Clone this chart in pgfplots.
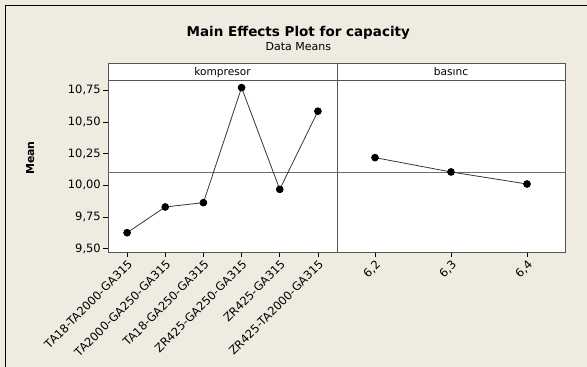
\documentclass[border=0pt]{standalone}
\usepackage{fontspec}
\setmainfont{DejaVu Sans}
\usepackage{pgfplots}
\pgfplotsset{compat=1.18}
\definecolor{bgc}{RGB}{239,235,225}
\definecolor{panelc}{RGB}{85,85,85}
\definecolor{meanc}{RGB}{110,110,110}
\definecolor{linec}{RGB}{55,55,55}
\begin{document}
\begin{tikzpicture}
\fill[bgc] (0pt,0pt) rectangle (587pt,367pt);
\useasboundingbox (0pt,0pt) rectangle (587pt,367pt);
\draw[line width=1.2pt,black] (5.5pt,-1pt) -- (5.5pt,361.5pt) -- (588pt,361.5pt);
% titles
\node[anchor=base,inner sep=0pt,font=\fontsize{13.5}{15}\selectfont\bfseries] at (298.3pt,330.3pt) {Main Effects Plot for capacity};
\node[anchor=base,inner sep=0pt,font=\fontsize{11}{13}\selectfont] at (298.3pt,316pt) {Data Means};
% strip
\fill[white] (108pt,287pt) rectangle (565pt,303.5pt);
\draw[panelc,line width=0.8pt] (108pt,287pt) rectangle (565pt,303.5pt);
\draw[panelc,line width=0.8pt] (337pt,287pt) -- (337pt,303.5pt);
\node[anchor=base,inner sep=0pt,font=\fontsize{10.6}{12}\selectfont] at (222.5pt,291pt) {kompresor};
\node[anchor=base,inner sep=0pt,font=\fontsize{10.6}{12}\selectfont] at (451pt,291pt) {basınc};
% y label
\node[rotate=90,anchor=base,inner sep=0pt,font=\fontsize{11}{13}\selectfont\bfseries] at (34pt,209pt) {Mean};
\pgfplotsset{
  every axis/.append style={
    scale only axis, height=172pt,
    ymin=9.474, ymax=10.830,
    axis background/.style={fill=white},
    axis line style={draw=panelc,line width=0.8pt},
    tick align=outside, major tick length=5pt,
    tick style={black,line width=0.6pt},
    xtick pos=lower, ytick pos=left,
    tick label style={font=\fontsize{11.5}{13}\selectfont},
    xticklabel style={rotate=45,anchor=north east,inner sep=1.5pt},
  }
}
\begin{axis}[at={(108pt,115pt)},anchor=south west,width=229pt,
  xmin=0.5,xmax=6.5,
  xtick={1,2,3,4,5,6},
  xticklabels={TA18-TA2000-GA315,TA2000-GA250-GA315,TA18-GA250-GA315,ZR425-GA250-GA315,ZR425-GA315,ZR425-TA2000-GA315},
  ytick={9.5,9.75,10,10.25,10.5,10.75},
  yticklabels={{9,50},{9,75},{10,00},{10,25},{10,50},{10,75}},
  yticklabel style={inner sep=2pt},
]
\addplot[meanc,line width=0.8pt,no marks] coordinates {(0.5,10.103) (6.5,10.103)};
\addplot[linec,line width=0.8pt,mark=*,mark size=3.4pt,mark options={fill=black,draw=black}] coordinates {
(1,9.626) (2,9.829) (3,9.863) (4,10.770) (5,9.968) (6,10.584)};
\end{axis}
\begin{axis}[at={(337pt,115pt)},anchor=south west,width=228pt,
  xmin=6.15,xmax=6.45,
  xtick={6.2,6.3,6.4},
  xticklabels={{6,2},{6,3},{6,4}},
  ytick=\empty,
]
\addplot[meanc,line width=0.8pt,no marks] coordinates {(6.15,10.103) (6.45,10.103)};
\addplot[linec,line width=0.8pt,mark=*,mark size=3.4pt,mark options={fill=black,draw=black}] coordinates {
(6.2,10.218) (6.3,10.105) (6.4,10.010)};
\end{axis}
\end{tikzpicture}
\end{document}
